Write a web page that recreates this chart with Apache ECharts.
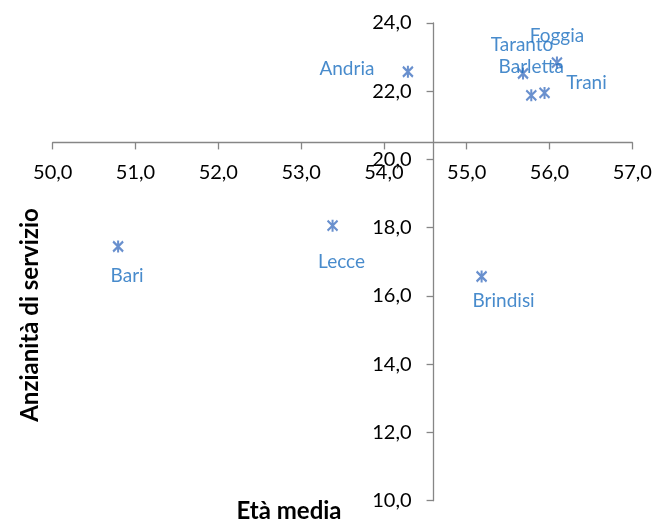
<!DOCTYPE html>
<html>
<head>
<meta charset="utf-8">
<script src="https://cdn.jsdelivr.net/npm/echarts@6/dist/echarts.min.js"></script>
<style>html,body{margin:0;padding:0;background:#fff}#c{width:657px;height:523px}</style>
</head>
<body>
<div id="c"></div>
<script>
// ---- data ----
const cities = ['Bari', 'Lecce', 'Brindisi', 'Andria', 'Taranto', 'Foggia', 'Barletta', 'Trani'];
const etaMedia = [50.79, 53.38, 55.18, 54.29, 55.68, 56.09, 55.78, 55.94];
const anzianita = [17.45, 18.06, 16.57, 22.57, 22.52, 22.84, 21.88, 21.95];
const xTicks = [50, 51, 52, 53, 54, 55, 56, 57];
const yTicks = [10, 12, 14, 16, 18, 20, 22, 24];
const xCross = 54.6;   // value where the vertical axis crosses
const yCross = 20.5;   // value where the horizontal axis crosses
const xTitle = 'Età media';
const yTitle = 'Anzianità di servizio';

// ---- label placement (style) ----
const labelOffset = {
  Bari: [9, 29], Lecce: [9, 36], Brindisi: [22, 24], Andria: [-61, -3],
  Taranto: [-1, -29], Foggia: [0, -27], Barletta: [0, -28], Trani: [42, -10]
};

const G = { left: 52.7, right: 24.7, top: 23, bottom: 22.3 };
const W = 657, H = 523;
const gw = W - G.left - G.right, gh = H - G.top - G.bottom;
const xMin = xTicks[0], xMax = xTicks[xTicks.length - 1];
const yMin = yTicks[0], yMax = yTicks[yTicks.length - 1];
const xAxisOffset = -gh * (yCross - yMin) / (yMax - yMin);
const yAxisOffset = -gw * (xCross - xMin) / (xMax - xMin);

const fmt = v => v.toFixed(1).replace('.', ',');
const axisCol = '#868686';
const FONT = 'Lato';

const data = cities.map((c, i) => ({ name: c, value: [etaMedia[i], anzianita[i]] }));

const chart = echarts.init(document.getElementById('c'));
chart.setOption({
  animation: false,
  backgroundColor: '#fff',
  grid: { left: G.left, right: G.right, top: G.top, bottom: G.bottom, containLabel: false },
  xAxis: {
    type: 'value', min: xMin, max: xMax, interval: 1,
    position: 'bottom', offset: xAxisOffset,
    axisLine: { onZero: false, lineStyle: { color: axisCol, width: 1.3 } },
    axisTick: { show: true, length: 7, lineStyle: { color: axisCol, width: 1.3 } },
    splitLine: { show: false },
    axisLabel: { formatter: fmt, color: '#000', fontFamily: FONT, fontSize: 20, margin: 20 }
  },
  yAxis: {
    type: 'value', min: yMin, max: yMax, interval: 2,
    position: 'left', offset: yAxisOffset,
    axisLine: { show: true, onZero: false, lineStyle: { color: axisCol, width: 1.3 } },
    axisTick: { show: true, length: 7, lineStyle: { color: axisCol, width: 1.3 } },
    splitLine: { show: false },
    axisLabel: { formatter: fmt, color: '#000', fontFamily: FONT, fontSize: 20, margin: 22 }
  },
  series: [{
    type: 'scatter',
    symbol: 'path://M0,0L10,10M10,0L0,10M5,-1L5,11',
    symbolSize: [10, 12],
    itemStyle: { color: 'none', borderColor: '#4474c2', borderWidth: 2.2 },
    label: {
      show: true, position: 'inside', formatter: '{b}',
      color: '#1a6ebf', fontFamily: FONT, fontSize: 19,
      align: 'center', verticalAlign: 'middle'
    },
    labelLayout: function (p) {
      const o = labelOffset[cities[p.dataIndex]] || [0, 0];
      return { dx: o[0], dy: o[1], hideOverlap: false };
    },
    data: data
  }],
  graphic: [
    { type: 'text', x: 289, y: 511, style: { text: xTitle, font: 'bold 24px ' + FONT, fill: '#000', textAlign: 'center', textVerticalAlign: 'middle' } },
    { type: 'text', x: 30, y: 315, rotation: Math.PI / 2, style: { text: yTitle, font: 'bold 24px ' + FONT, fill: '#000', textAlign: 'center', textVerticalAlign: 'middle' } }
  ]
});
</script>
</body>
</html>
